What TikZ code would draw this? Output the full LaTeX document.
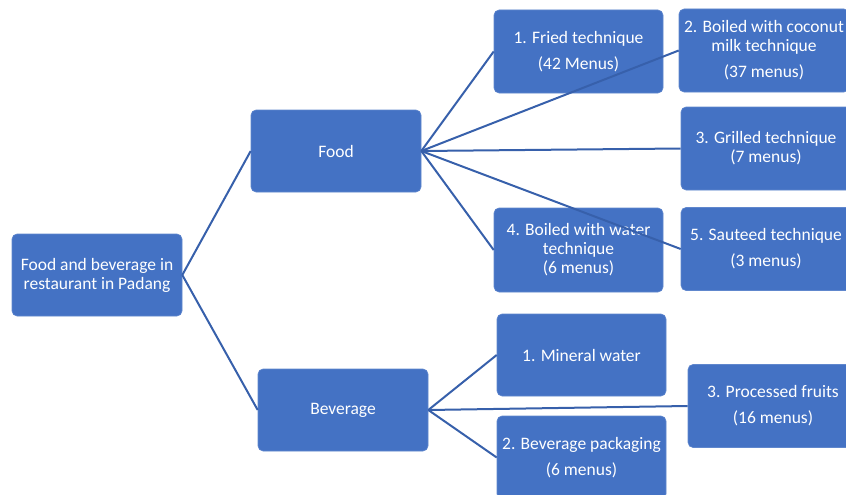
\documentclass[tikz,border=0pt]{standalone}
\usepackage{fontspec}
\setmainfont{Carlito}
\usepackage{tikz}
\usetikzlibrary{calc}
\usetikzlibrary{positioning}
\definecolor{boxblue}{HTML}{4472C4}
\definecolor{linkblue}{HTML}{3760AB}
\tikzset{
  box/.style={rectangle,rounded corners=5pt,fill=boxblue,draw=boxblue!85!white,line width=0.6pt,
    text=white,align=center,font=\fontsize{17.5}{19}\selectfont,inner sep=0pt},
  link/.style={draw=linkblue,line width=2pt},
}

\begin{document}
\begin{tikzpicture}[x=1pt,y=-1pt]
    \useasboundingbox (0,0) rectangle (846,495);
    \clip (0,0) rectangle (846,495);
    % top levels
    \node[box,minimum width=170pt,minimum height=82pt] (root) at (97,275) {Food and beverage in\\restaurant in Padang};
    \node[box,minimum width=170pt,minimum height=82pt] (food) at (336,151) {Food};
    \node[box,minimum width=170pt,minimum height=82pt] (bev) at (343,410) {Beverage};
    % food techniques
    \node[box,minimum width=169pt,minimum height=83pt] (f1) at (578.5,51.5) {1. Fried technique\\[7pt](42 Menus)};
    \node[box,minimum width=170pt,minimum height=83pt] (f2) at (764,50.5) {2. Boiled with coconut\\milk technique\\[7pt](37 menus)};
    \node[box,minimum width=170pt,minimum height=83pt] (f3) at (766,148.5) {3. Grilled technique\\(7 menus)};
    \node[box,minimum width=169pt,minimum height=84pt] (f4) at (578.5,250) {4. Boiled with water\\technique\\(6 menus)};
    \node[box,minimum width=170pt,minimum height=83pt] (f5) at (766,249) {5. Sauteed technique\\[7pt](3 menus)};
    % beverage kinds
    \node[box,minimum width=169pt,minimum height=82pt] (b1) at (581.5,355) {1. Mineral water};
    \node[box,minimum width=169pt,minimum height=83pt] (b2) at (581.5,457.5) {2. Beverage packaging\\[7pt](6 menus)};
    \node[box,minimum width=170pt,minimum height=83pt] (b3) at (773,406) {3. Processed fruits\\[7pt](16 menus)};
    % links
    \draw[link] (root.east) -- (food.west);
    \draw[link] (root.east) -- (bev.west);
    \foreach \t in {f1,f2,f3,f4,f5}
      \draw[link] (food.east) -- (\t.west);
    \foreach \t in {b1,b2,b3}
      \draw[link] (bev.east) -- (\t.west);
\end{tikzpicture}
\end{document}
